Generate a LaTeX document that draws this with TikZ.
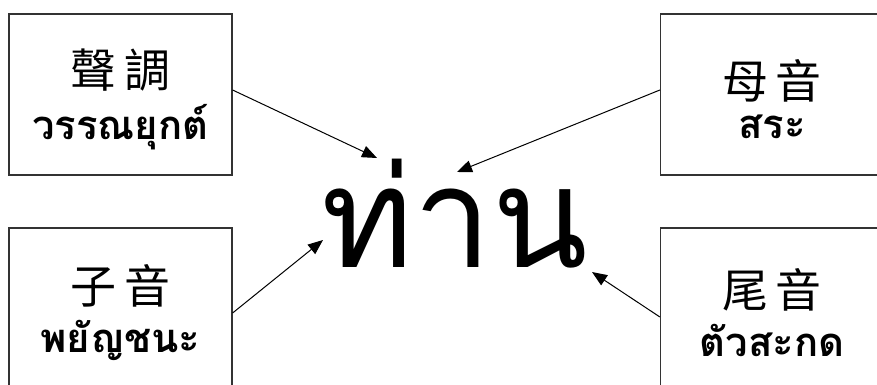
\documentclass[tikz,border=0pt]{standalone}
\usepackage{fontspec}
\newfontfamily\thaifont[Script=Thai]{Loma}
\newfontfamily\cjkfont{Noto Sans CJK TC}
\usetikzlibrary{arrows.meta}

\newcommand{\zhtxt}[2]{{\cjkfont\fontsize{46}{50}\selectfont\rule{0pt}{48pt}#1\hspace{8pt}#2}}
\newcommand{\thtxt}[1]{{\thaifont\bfseries\fontsize{40}{44}\selectfont #1}}

\begin{document}
\begin{tikzpicture}[
  x=1pt, y=-1pt, >={Triangle[length=15pt, width=12pt]},
  part/.style={draw=black!80, line width=1.2pt, minimum width=223pt, minimum height=161pt, align=center, inner sep=0pt},
  flow/.style={->, line width=1pt},
]
  \useasboundingbox (0,0) rectangle (877,385);
  % the four parts of a syllable
  \node[part] (tone)  at (120.5,94.5)  {\zhtxt{聲}{調}\\[12pt]\thtxt{วรรณยุกต์}};
  \node[part] (vowel) at (772,94.5)    {\zhtxt{母}{音}\\[12pt]\thtxt{สระ}};
  \node[part] (init)  at (120.5,308.5) {\zhtxt{子}{音}\\[12pt]\thtxt{พยัญชนะ}};
  \node[part] (final) at (772,308.5)   {\zhtxt{尾}{音}\\[12pt]\thtxt{ตัวสะกด}};
  % the syllable
  \node[anchor=base, inner sep=0pt, font=\thaifont\fontsize{140}{150}\selectfont] (word) at (454.5,267) {ท่าน};
  \coordinate (tipA) at (377,158);
  \coordinate (tipB) at (457,172);
  \coordinate (tipC) at (323,240);
  \coordinate (tipD) at (592,272);
  \draw[flow] ([yshift=4.5pt]tone.east)   -- (tipA);
  \draw[flow] ([yshift=4.5pt]vowel.west)  -- (tipB);
  \draw[flow] ([yshift=-4.5pt]init.east)  -- (tipC);
  \draw[flow] ([yshift=-8.5pt]final.west) -- (tipD);
\end{tikzpicture}
\end{document}
